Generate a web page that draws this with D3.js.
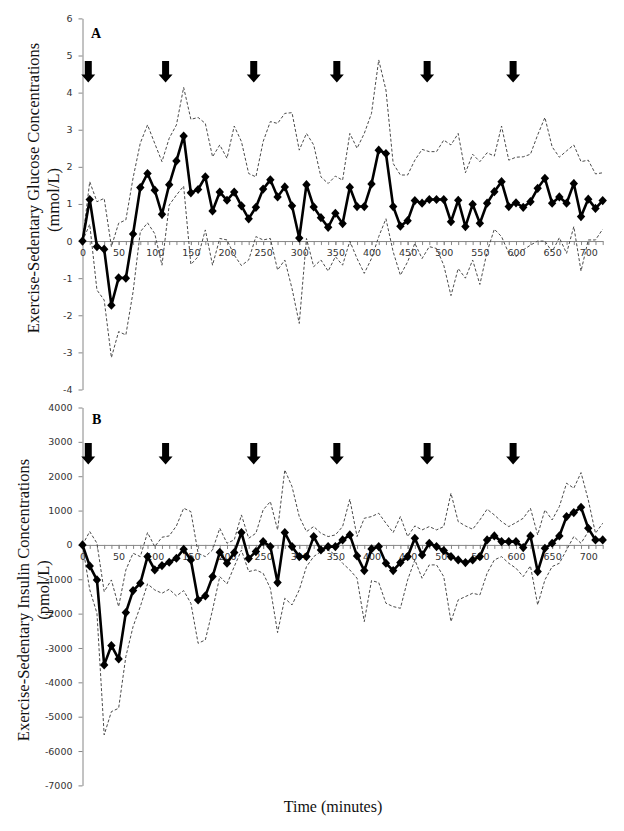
<!DOCTYPE html>
<html><head><meta charset="utf-8">
<script src="https://cdn.jsdelivr.net/npm/d3@7"></script>
<style>body{margin:0;background:#fff}svg{display:block}</style>
</head><body>
<svg id="c" width="624" height="831"></svg>
<script>
// ---- data ----
const times = [0,10,20,30,40,50,60,70,80,90,100,110,120,130,140,150,160,170,180,190,200,210,220,230,240,250,260,270,280,290,300,310,320,330,340,350,360,370,380,390,400,410,420,430,440,450,460,470,480,490,500,510,520,530,540,550,560,570,580,590,600,610,620,630,640,650,660,670,680,690,700,710,720];
const xTickLabels = [0,50,100,150,200,250,300,350,400,450,500,550,600,650,700];
const yTicksA = [-4,-3,-2,-1,0,1,2,3,4,5,6];
const yTicksB = [-7000,-6000,-5000,-4000,-3000,-2000,-1000,0,1000,2000,3000,4000];
const arrowTimes = [8,115,237,352,477,596];
const arrowTopA = 4.85;
const arrowTopB = 2970;

const glucoseMean = [0,1.12,-0.15,-0.22,-1.73,-0.99,-1.0,0.19,1.44,1.82,
 1.37,0.72,1.52,2.16,2.83,1.30,1.39,1.73,0.81,1.32,
 1.10,1.32,0.95,0.60,0.91,1.40,1.65,1.19,1.46,0.95,
 0.08,1.52,0.92,0.63,0.37,0.75,0.47,1.45,0.93,0.93,
 1.54,2.45,2.36,0.93,0.40,0.55,1.09,1.02,1.12,1.12,
 1.12,0.52,1.10,0.39,0.99,0.48,1.02,1.33,1.60,0.93,
 1.03,0.91,1.06,1.42,1.69,1.02,1.19,1.02,1.55,0.66,
 1.13,0.88,1.09];
const glucoseUpper = [0,1.60,1.06,1.15,-0.15,0.48,0.57,1.70,2.64,3.13,
 2.63,2.14,2.77,3.13,4.14,3.28,3.33,3.17,2.27,2.59,
 2.23,3.10,2.68,1.82,1.73,2.68,3.22,3.17,3.44,3.46,
 2.45,2.90,2.59,1.73,1.55,1.75,1.64,2.90,2.50,2.90,
 3.44,4.88,4.07,2.09,1.78,1.78,2.18,2.47,2.41,2.41,
 2.72,2.59,2.90,1.84,2.34,2.14,2.38,2.29,3.10,2.18,
 2.26,2.27,2.34,2.86,3.33,2.54,2.26,2.43,2.59,2.14,
 2.18,1.81,1.84];
const glucoseLower = [0,0.45,-1.32,-1.59,-3.14,-2.44,-2.53,-1.37,0.25,0.49,
 0.20,-0.65,0.97,1.24,1.48,-0.63,-0.42,0.30,-0.65,0.07,
 0.03,-0.38,-0.66,-0.51,0.12,0.03,0.07,-0.78,-0.51,-1.28,
 -2.22,0.07,-0.69,-0.51,-0.81,-0.42,-0.65,0.0,-0.47,-0.87,
 -0.47,0.12,0.60,-0.29,-0.92,-0.56,-0.06,-0.47,-0.15,-0.20,
 -0.65,-1.47,-0.74,-1.0,-0.51,-1.17,-0.29,0.32,0.12,-0.33,
 -0.42,-0.24,-0.11,0.0,0.0,-0.29,0.09,-0.33,0.39,-0.81,
 0.03,0.03,0.32];

const insulinMean = [0,-611,-1019,-3493,-2931,-3319,-1970,-1330,-1116,-340,
 -728,-602,-505,-388,-126,-437,-1601,-1485,-922,-214,
 -534,-223,359,-398,-194,97,-49,-1097,359,-49,
 -340,-340,243,-146,-49,-49,146,291,-320,-748,
 -116,-49,-534,-748,-515,-340,194,-291,49,-49,
 -165,-340,-437,-515,-437,-340,146,262,97,97,
 97,-78,262,-776,-97,49,262,825,942,1097,
 485,146,146];
const insulinUpper = [0,388,49,-1359,-1019,-1796,-728,-243,-340,359,
 -49,223,262,553,1067,970,-243,-340,-146,485,
 49,146,873,194,340,1019,1262,437,2183,1698,
 825,388,534,340,243,291,534,1330,243,776,
 825,922,631,359,825,243,553,437,534,437,
 534,1504,679,553,456,728,1039,873,679,534,
 650,776,1067,291,1019,728,1116,1796,1650,2105,
 1310,340,631];
const insulinLower = [0,-1300,-1989,-5531,-4852,-4755,-3251,-2377,-1795,-1135,
 -1310,-1407,-1291,-1485,-1330,-1698,-2863,-2766,-1892,-922,
 -1135,-631,-150,-776,-728,-825,-1262,-2552,-1553,-1747,
 -1310,-631,-340,-194,-146,-291,-534,-728,-970,-2232,
 -1038,-1096,-1698,-1795,-1844,-1019,-437,-970,-582,-582,
 -922,-2232,-1601,-1504,-1407,-1456,-825,-437,-340,-534,
 -679,-922,-611,-1747,-1019,-631,-534,-146,243,49,
 388,243,97];

// ---- drawing ----
const svg = d3.select("#c");
const x = d3.scaleLinear().domain([0,720]).range([82.5,602.7]);
const plain = d => String(d);

function panel(cfg){
  const g = svg.append("g");
  const y = cfg.y;
  // y axis
  const ya = g.append("g").attr("transform","translate(82.5,0)")
    .call(d3.axisLeft(y).tickValues(cfg.yTicks).tickFormat(plain).tickSize(4).tickSizeOuter(0).tickPadding(6));
  ya.select(".domain").attr("stroke","#868686");
  ya.selectAll(".tick line").attr("stroke","#868686");
  ya.selectAll("text").attr("fill","#333").style("font-family","'DejaVu Sans'").style("font-size","9.5px");
  // x axis minor ticks
  const x0 = y(0);
  const xm = g.append("g").attr("transform",`translate(0,${x0})`)
    .call(d3.axisBottom(x).tickValues(times).tickSize(4).tickSizeOuter(0).tickFormat(""));
  xm.select(".domain").attr("stroke","#868686");
  xm.selectAll(".tick line").attr("stroke","#868686");
  const xl = g.append("g").attr("transform",`translate(0,${x0})`)
    .call(d3.axisBottom(x).tickValues(xTickLabels).tickFormat(plain).tickSize(4).tickSizeOuter(0).tickPadding(4));
  xl.select(".domain").remove();
  xl.selectAll(".tick line").attr("stroke","#868686");
  xl.selectAll("text").attr("fill","#333").style("font-family","'DejaVu Sans'").style("font-size","9.5px");

  // dashed lines
  const line = d3.line().x((d,i)=>x(times[i])).y(d=>y(d));
  [cfg.upper,cfg.lower].forEach(s=>{
    g.append("path").attr("d",line(s)).attr("fill","none")
      .attr("stroke","#4a4a4a").attr("stroke-width",1).attr("stroke-dasharray","3,2");
  });
  // mean line
  g.append("path").attr("d",line(cfg.mean)).attr("fill","none")
    .attr("stroke","#000").attr("stroke-width",2.6).attr("stroke-linejoin","miter");
  g.selectAll(".mk").data(cfg.mean).join("path")
    .attr("transform",(d,i)=>`translate(${x(times[i])},${y(d)})`)
    .attr("d","M0,-4.6L4.2,0L0,4.6L-4.2,0Z").attr("fill","#000");

  // arrows
  g.selectAll(".arr").data(arrowTimes).join("path")
    .attr("transform",d=>`translate(${x(d)},${y(cfg.arrowTop)})`)
    .attr("d","M-3.5,0L3.5,0L3.5,13.5L7,13.5L0,21.5L-7,13.5L-3.5,13.5Z").attr("fill","#000");

  // panel letter
  g.append("text").attr("x",cfg.letterX).attr("y",cfg.letterY).text(cfg.letter)
    .style("font-family","'Liberation Serif'").style("font-weight","bold").style("font-size","14px");

  // axis title
  cfg.title.forEach(t=>{
    g.append("text").attr("transform",`translate(${t.x},${t.y}) rotate(-90)`)
      .attr("text-anchor","middle").attr("dominant-baseline","central")
      .style("font-family","'Liberation Serif'").style("font-size","16.5px").attr("fill","#111")
      .text(t.s);
  });
}

panel({
  y: d3.scaleLinear().domain([-4,6]).range([389.5,18.4]),
  yTicks: yTicksA, mean: glucoseMean, upper: glucoseUpper, lower: glucoseLower,
  arrowTop: arrowTopA, letter:"A", letterX:91, letterY:38,
  title:[{s:"Exercise-Sedentary Glucose Concentrations",x:33,y:188},{s:"(mmol/L)",x:53,y:200}]
});
panel({
  y: d3.scaleLinear().domain([-7000,4000]).range([785.4,407.5]),
  yTicks: yTicksB, mean: insulinMean, upper: insulinUpper, lower: insulinLower,
  arrowTop: arrowTopB, letter:"B", letterX:92, letterY:424,
  title:[{s:"Exercise-Sedentary Insulin Concentrations",x:23,y:600},{s:"(pmol/L)",x:43,y:590}]
});

svg.append("text").attr("x",333).attr("y",806).attr("text-anchor","middle")
  .attr("dominant-baseline","central")
  .style("font-family","'Liberation Serif'").style("font-size","16px").attr("fill","#111")
  .text("Time (minutes)");
</script>
</body></html>
